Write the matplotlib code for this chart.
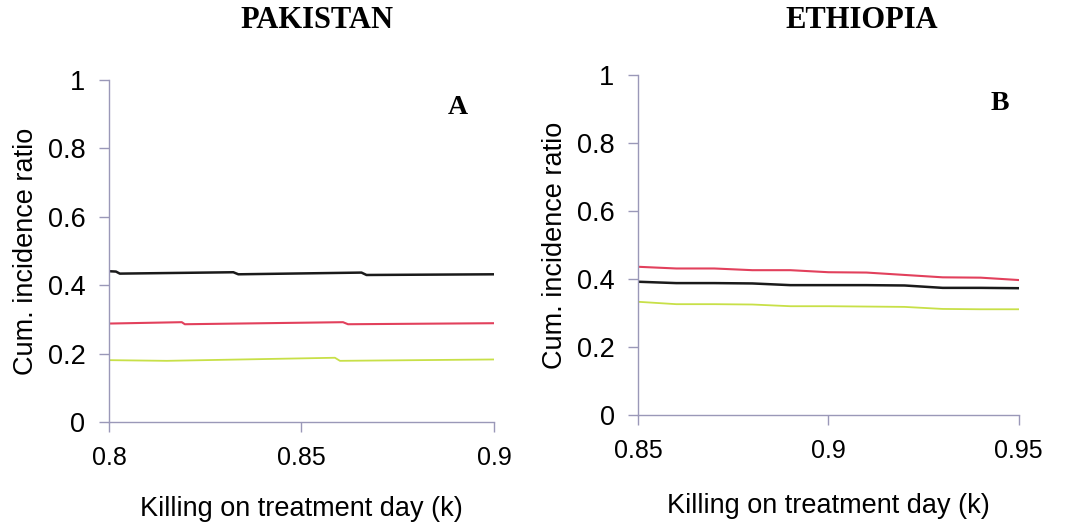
import matplotlib
matplotlib.use('Agg')
import matplotlib.pyplot as plt

# Pakistan (panel A): killing on treatment day vs cum. incidence ratio
kA_black = [0.800, 0.8018, 0.8028, 0.8323, 0.8336, 0.8656, 0.8669, 0.900]
yA_black = [0.441, 0.440, 0.434, 0.438, 0.432, 0.437, 0.430, 0.432]
kA_red = [0.800, 0.8189, 0.8197, 0.8608, 0.8621, 0.900]
yA_red = [0.288, 0.292, 0.286, 0.292, 0.286, 0.289]
kA_green = [0.800, 0.8150, 0.8587, 0.8600, 0.900]
yA_green = [0.181, 0.179, 0.188, 0.179, 0.183]

# Ethiopia (panel B)
kB = [0.85, 0.86, 0.87, 0.88, 0.89, 0.90, 0.91, 0.92, 0.93, 0.94, 0.95]
yB_red = [0.436, 0.431, 0.431, 0.426, 0.426, 0.420, 0.419, 0.412, 0.405, 0.404, 0.397]
yB_black = [0.392, 0.388, 0.388, 0.387, 0.382, 0.382, 0.382, 0.381, 0.374, 0.374, 0.373]
yB_green = [0.333, 0.326, 0.326, 0.325, 0.320, 0.320, 0.319, 0.318, 0.312, 0.311, 0.311]

yticks = [0, 0.2, 0.4, 0.6, 0.8, 1]
ytick_labels = ['0', '0.2', '0.4', '0.6', '0.8', '1']

black = '#1a1a1a'
red = '#e2405c'
green = '#c8e048'
spine = '#9a98b8'

plt.rcParams['font.family'] = ['Liberation Sans', 'DejaVu Sans']

fig = plt.figure(figsize=(10.69, 5.23), dpi=100)
axA = fig.add_axes([0.102, 0.193, 0.360, 0.654])
axB = fig.add_axes([0.597, 0.2065, 0.356, 0.650])

axA.plot(kA_black, yA_black, color=black, lw=1.8)
axA.plot(kA_red, yA_red, color=red, lw=1.5)
axA.plot(kA_green, yA_green, color=green, lw=1.3)

axB.plot(kB, yB_red, color=red, lw=1.5)
axB.plot(kB, yB_black, color=black, lw=1.8)
axB.plot(kB, yB_green, color=green, lw=1.3)

for ax, xt, xtl, lab, lab_xy, xpad in [
        (axA, [0.8, 0.85, 0.9], ['0.8', '0.85', '0.9'], 'A', (0.905, 0.92), 19),
        (axB, [0.85, 0.9, 0.95], ['0.85', '0.9', '0.95'], 'B', (0.95, 0.915), 22)]:
    ax.set_xlim(xt[0], xt[-1])
    ax.set_ylim(0, 1)
    ax.set_xticks(xt)
    ax.set_xticklabels(xtl)
    ax.set_yticks(yticks)
    ax.set_yticklabels(ytick_labels)
    ax.spines['top'].set_visible(False)
    ax.spines['right'].set_visible(False)
    for s in ['left', 'bottom']:
        ax.spines[s].set_color(spine)
        ax.spines[s].set_linewidth(1.0)
    ax.tick_params(direction='out', length=7, width=1.0, color=spine, pad=10)
    ax.tick_params(axis='x', labelsize=18)
    ax.tick_params(axis='y', labelsize=19.5)
    ax.set_ylabel('Cum. incidence ratio', fontsize=19.5, labelpad=6)
    ax.set_xlabel('Killing on treatment day (k)', fontsize=19.5, labelpad=xpad)
    ax.text(lab_xy[0], lab_xy[1], lab, transform=ax.transAxes, fontsize=20,
            fontweight='bold', family='Liberation Serif', ha='center', va='center')
    ax.patch.set_visible(False)

fig.text(317 / 1069, 1 - 20 / 523, 'PAKISTAN', fontsize=22, fontweight='bold',
         family='Liberation Serif', ha='center', va='center')
fig.text(862 / 1069, 1 - 20 / 523, 'ETHIOPIA', fontsize=22, fontweight='bold',
         family='Liberation Serif', ha='center', va='center')

fig.savefig('out.png', dpi=100)
